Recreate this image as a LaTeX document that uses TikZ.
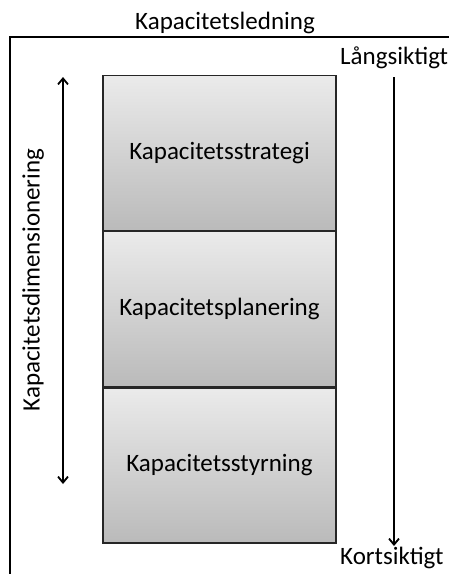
\documentclass[tikz,border=0pt]{standalone}
\usepackage{fontspec}
\setmainfont{Carlito}
\usetikzlibrary{arrows.meta,shadows}
\begin{document}
\begin{tikzpicture}[x=1pt,y=-1pt,
  stagebox/.style={draw=black!85,line width=1.2pt,top color=black!8,bottom color=black!27,
     minimum width=233pt,minimum height=155pt,inner sep=0pt,font=\fontsize{25}{28}\selectfont,
     drop shadow={shadow xshift=1pt,shadow yshift=-1.5pt,opacity=0.25}},
  lbl/.style={font=\fontsize{25}{28}\selectfont,inner sep=0pt},
  arr/.style={line width=1.8pt,-{Straight Barb[length=6pt,width=10pt]}}]
\useasboundingbox (0,0) rectangle (449,574);
\clip (0,0) rectangle (449,574);
\fill[white] (0,0) rectangle (449,574);
% frame
\coordinate (fl) at (10,574);
\coordinate (fc) at (10,37);
\coordinate (fr) at (460,37);
\draw[line width=1.2pt] (fl) -- (fc) -- (fr);
\node[lbl,anchor=base] (title) at (225,29) {Kapacitetsledning};
% boxes
\node[stagebox] (s1) at (219.5,153) {Kapacitetsstrategi};
\node[stagebox,anchor=north] (s2) at (s1.south) {Kapacitetsplanering};
\node[stagebox,anchor=north] (s3) at (s2.south) {Kapacitetsstyrning};
% left arrow
\coordinate (la) at (63,77);
\coordinate (lb) at (63,484);
\draw[arr,{Straight Barb[length=6pt,width=10pt]}-{Straight Barb[length=6pt,width=10pt]}] (la) -- (lb);
\node[lbl,rotate=90] (dim) at (33,280) {Kapacitetsdimensionering};
% right arrow
\node[lbl,anchor=base west] (long) at (340,64) {Långsiktigt};
\node[lbl,anchor=base west] (short) at (340,564) {Kortsiktigt};
\coordinate (ra) at (394,77);
\coordinate (rb) at (394,546);
\draw[arr] (ra) -- (rb);
\end{tikzpicture}
\end{document}
